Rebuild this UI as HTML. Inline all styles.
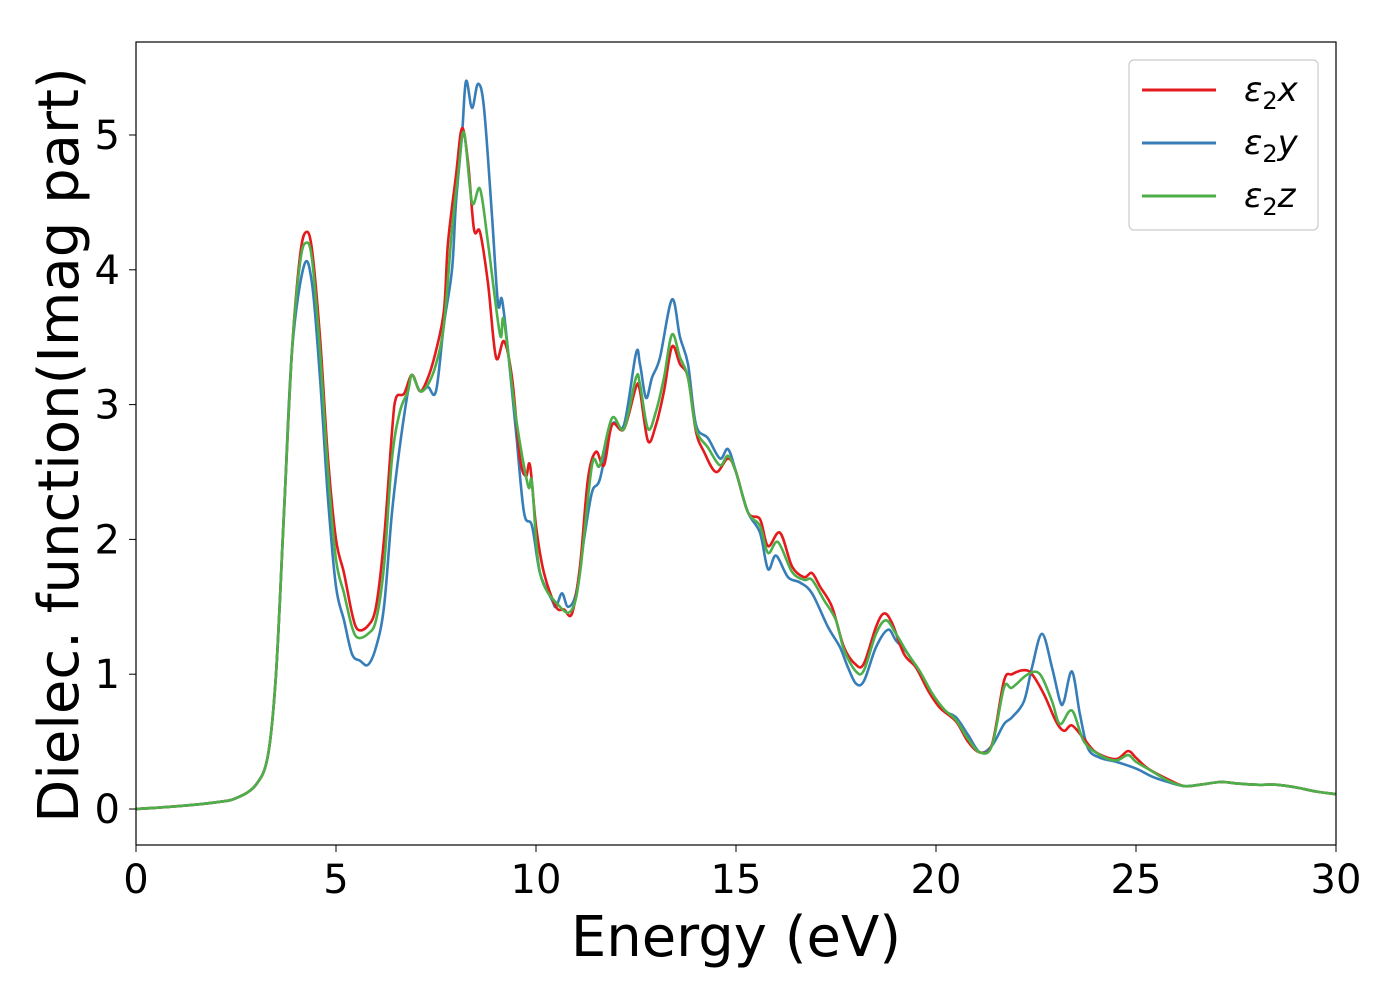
<!DOCTYPE html>
<html><head><meta charset="utf-8"><style>
html,body{margin:0;padding:0;background:#fff;}
svg{display:block;font-family:"DejaVu Sans","Liberation Sans",sans-serif;}
</style></head><body>
<svg id="chart" width="1400" height="1000">
<rect x="0" y="0" width="1400" height="1000" fill="#fff"/>
<g id="plot"></g>
<rect x="136" y="42" width="1200" height="803" fill="none" stroke="#000" stroke-width="1.2"/>
<g id="ticks"></g>
<text x="736" y="956" text-anchor="middle" font-size="56">Energy (eV)</text>
<text transform="translate(78,445) rotate(-90)" text-anchor="middle" font-size="56">Dielec. function(Imag part)</text>
<g>
<rect x="1129" y="60" width="189" height="170" rx="5" fill="#fff" stroke="#ccc" stroke-width="1.2"/>
<g><line x1="1142" y1="90" x2="1216" y2="90" stroke="#e41a1c" stroke-width="3"/><text x="1244" y="101" font-size="34" font-style="italic">ε<tspan font-size="24" font-style="normal" dy="8">2</tspan><tspan dy="-8">x</tspan></text></g>
<g><line x1="1142" y1="143" x2="1216" y2="143" stroke="#377eb8" stroke-width="3"/><text x="1244" y="154" font-size="34" font-style="italic">ε<tspan font-size="24" font-style="normal" dy="8">2</tspan><tspan dy="-8">y</tspan></text></g>
<g><line x1="1142" y1="196" x2="1216" y2="196" stroke="#4daf4a" stroke-width="3"/><text x="1244" y="207" font-size="34" font-style="italic">ε<tspan font-size="24" font-style="normal" dy="8">2</tspan><tspan dy="-8">z</tspan></text></g>
</g>
</svg>
<script>
const xTicks=[0,5,10,15,20,25,30];
const yTicks=[0,1,2,3,4,5];
const common=[[0,0],[1,0.02],[2,0.05],[2.5,0.08],[3,0.18],[3.3,0.4],[3.5,1.0],[3.7,2.2]];
const tail=[[26.6,0.18],[27.1,0.2],[27.5,0.19],[28,0.18],[28.5,0.18],[29,0.16],[29.5,0.13],[30,0.11]];
const seriesX=[[3.9,3.4],[4.1,4.1],[4.25,4.28],[4.4,4.15],[4.6,3.5],[4.8,2.6],[5.0,2.0],[5.2,1.75],[5.4,1.45],[5.55,1.33],[5.8,1.36],[6.0,1.5],[6.2,2.0],[6.4,2.8],[6.5,3.05],[6.7,3.08],[6.9,3.22],[7.1,3.1],[7.3,3.2],[7.5,3.4],[7.7,3.7],[7.8,4.2],[8.0,4.7],[8.15,5.05],[8.3,4.8],[8.45,4.3],[8.6,4.28],[8.8,3.9],[9.0,3.35],[9.2,3.47],[9.4,3.2],[9.6,2.6],[9.75,2.47],[9.85,2.55],[10.0,2.1],[10.2,1.75],[10.5,1.5],[10.7,1.48],[10.9,1.45],[11.1,1.8],[11.3,2.45],[11.5,2.65],[11.7,2.55],[11.9,2.85],[12.2,2.82],[12.5,3.13],[12.6,3.1],[12.8,2.73],[13.0,2.85],[13.2,3.1],[13.4,3.43],[13.6,3.3],[13.8,3.2],[14.0,2.8],[14.2,2.65],[14.5,2.5],[14.8,2.6],[15.0,2.5],[15.3,2.2],[15.6,2.15],[15.8,1.95],[16.1,2.05],[16.4,1.8],[16.7,1.72],[16.9,1.75],[17.1,1.65],[17.4,1.5],[17.7,1.2],[18.0,1.07],[18.2,1.08],[18.5,1.35],[18.7,1.45],[18.9,1.38],[19.2,1.15],[19.5,1.05],[19.8,0.88],[20.1,0.75],[20.5,0.65],[20.8,0.5],[21.1,0.42],[21.4,0.48],[21.7,0.95],[21.9,1.0],[22.2,1.03],[22.4,1.0],[22.7,0.85],[23.0,0.65],[23.2,0.58],[23.4,0.62],[23.7,0.52],[24.0,0.42],[24.5,0.37],[24.8,0.43],[25.0,0.38],[25.3,0.3],[25.8,0.22],[26.2,0.17]];
const seriesY=[[3.9,3.4],[4.2,4.03],[4.4,3.9],[4.6,3.2],[4.8,2.3],[5.0,1.65],[5.2,1.4],[5.4,1.15],[5.6,1.1],[5.8,1.07],[6.0,1.2],[6.2,1.5],[6.4,2.2],[6.6,2.7],[6.8,3.1],[6.9,3.22],[7.1,3.1],[7.3,3.13],[7.5,3.1],[7.7,3.6],[7.9,4.0],[8.0,4.5],[8.15,5.0],[8.25,5.4],[8.4,5.2],[8.55,5.38],[8.7,5.2],[8.9,4.4],[9.05,3.75],[9.15,3.78],[9.3,3.4],[9.5,2.8],[9.7,2.2],[9.9,2.1],[10.1,1.75],[10.4,1.55],[10.5,1.5],[10.65,1.6],[10.8,1.5],[11.0,1.6],[11.2,2.0],[11.4,2.35],[11.6,2.45],[11.9,2.85],[12.2,2.85],[12.5,3.38],[12.6,3.3],[12.75,3.05],[12.9,3.2],[13.1,3.35],[13.4,3.78],[13.6,3.5],[13.8,3.3],[14.0,2.85],[14.3,2.75],[14.6,2.6],[14.8,2.67],[15.0,2.5],[15.3,2.2],[15.6,2.05],[15.8,1.78],[16.0,1.88],[16.3,1.72],[16.6,1.68],[16.9,1.6],[17.3,1.35],[17.6,1.2],[17.8,1.05],[18.0,0.93],[18.2,0.95],[18.5,1.2],[18.8,1.33],[19.0,1.25],[19.3,1.15],[19.6,1.0],[19.9,0.85],[20.2,0.73],[20.5,0.68],[20.8,0.55],[21.1,0.42],[21.4,0.47],[21.7,0.63],[21.9,0.68],[22.2,0.8],[22.4,1.05],[22.65,1.3],[22.9,1.05],[23.1,0.8],[23.2,0.8],[23.4,1.02],[23.6,0.7],[23.8,0.45],[24.1,0.38],[24.5,0.35],[25.0,0.3],[25.4,0.24],[25.8,0.2],[26.2,0.17]];
const seriesZ=[[3.9,3.4],[4.1,4.05],[4.25,4.2],[4.4,4.08],[4.6,3.4],[4.8,2.5],[5.0,1.85],[5.2,1.6],[5.4,1.35],[5.55,1.27],[5.8,1.3],[6.0,1.4],[6.2,1.8],[6.4,2.6],[6.6,2.95],[6.8,3.1],[6.9,3.22],[7.1,3.1],[7.3,3.15],[7.5,3.3],[7.7,3.6],[7.9,4.3],[8.05,4.7],[8.2,5.02],[8.4,4.5],[8.6,4.6],[8.8,4.2],[9.1,3.52],[9.2,3.62],[9.5,2.9],[9.8,2.4],[9.9,2.42],[10.1,1.75],[10.6,1.5],[10.9,1.48],[11.1,1.75],[11.4,2.55],[11.6,2.55],[11.9,2.9],[12.2,2.82],[12.5,3.2],[12.6,3.15],[12.8,2.82],[13.0,2.95],[13.2,3.2],[13.4,3.52],[13.6,3.35],[13.8,3.2],[14.0,2.82],[14.3,2.68],[14.6,2.55],[14.8,2.62],[15.0,2.5],[15.3,2.2],[15.6,2.1],[15.8,1.9],[16.05,1.98],[16.4,1.76],[16.7,1.7],[16.9,1.7],[17.2,1.55],[17.5,1.4],[17.7,1.18],[18.0,1.02],[18.2,1.03],[18.5,1.3],[18.75,1.4],[19.0,1.3],[19.3,1.15],[19.6,1.02],[19.9,0.86],[20.2,0.74],[20.5,0.66],[20.8,0.52],[21.1,0.42],[21.4,0.47],[21.7,0.9],[21.9,0.9],[22.3,1.0],[22.6,1.0],[22.9,0.8],[23.1,0.63],[23.4,0.73],[23.7,0.5],[24.1,0.4],[24.5,0.36],[24.8,0.4],[25.0,0.35],[25.4,0.28],[25.8,0.21],[26.2,0.17]];
const X0=136,X1=1336,XMIN=0,XMAX=30;
const Y0PX=809,YPER=134.8;
function sx(v){return X0+(v-XMIN)/(XMAX-XMIN)*(X1-X0);}
function sy(v){return Y0PX-v*YPER;}
const NS="http://www.w3.org/2000/svg";
function pathFrom(pts){
  const p=pts.map(d=>[sx(d[0]),sy(d[1])]);
  let s="M"+p[0][0].toFixed(1)+","+p[0][1].toFixed(1);
  for(let i=0;i<p.length-1;i++){
    const a=p[Math.max(0,i-1)],b=p[i],c=p[i+1],d=p[Math.min(p.length-1,i+2)];
    const c1=[b[0]+(c[0]-a[0])/6,b[1]+(c[1]-a[1])/6];
    const c2=[c[0]-(d[0]-b[0])/6,c[1]-(d[1]-b[1])/6];
    s+="C"+c1[0].toFixed(1)+","+c1[1].toFixed(1)+" "+c2[0].toFixed(1)+","+c2[1].toFixed(1)+" "+c[0].toFixed(1)+","+c[1].toFixed(1);
  }
  return s;
}
const plot=document.getElementById('plot');
const defs=[["series-eps2-y",seriesY,"#377eb8"],["series-eps2-x",seriesX,"#e41a1c"],["series-eps2-z",seriesZ,"#4daf4a"]];
defs.forEach(([name,data,col])=>{
  const el=document.createElementNS(NS,'path');
  
  
  el.setAttribute('d',pathFrom(common.concat(data,tail)));
  el.setAttribute('fill','none');el.setAttribute('stroke',col);el.setAttribute('stroke-width','2.6');
  plot.appendChild(el);
});
const tg=document.getElementById('ticks');
xTicks.forEach(v=>{
  const l=document.createElementNS(NS,'line');
  
  
  l.setAttribute('x1',sx(v));l.setAttribute('x2',sx(v));l.setAttribute('y1',845);l.setAttribute('y2',852);l.setAttribute('stroke','#000');
  tg.appendChild(l);
  const t=document.createElementNS(NS,'text');
  
  
  t.setAttribute('x',sx(v));t.setAttribute('y',893);t.setAttribute('text-anchor','middle');t.setAttribute('font-size','40');
  t.textContent=v;tg.appendChild(t);
});
yTicks.forEach(v=>{
  const l=document.createElementNS(NS,'line');
  
  
  l.setAttribute('x1',129);l.setAttribute('x2',136);l.setAttribute('y1',sy(v));l.setAttribute('y2',sy(v));l.setAttribute('stroke','#000');
  tg.appendChild(l);
  const t=document.createElementNS(NS,'text');
  
  
  t.setAttribute('x',120);t.setAttribute('y',sy(v)+14);t.setAttribute('text-anchor','end');t.setAttribute('font-size','40');
  t.textContent=v;tg.appendChild(t);
});
</script>
</body></html>
